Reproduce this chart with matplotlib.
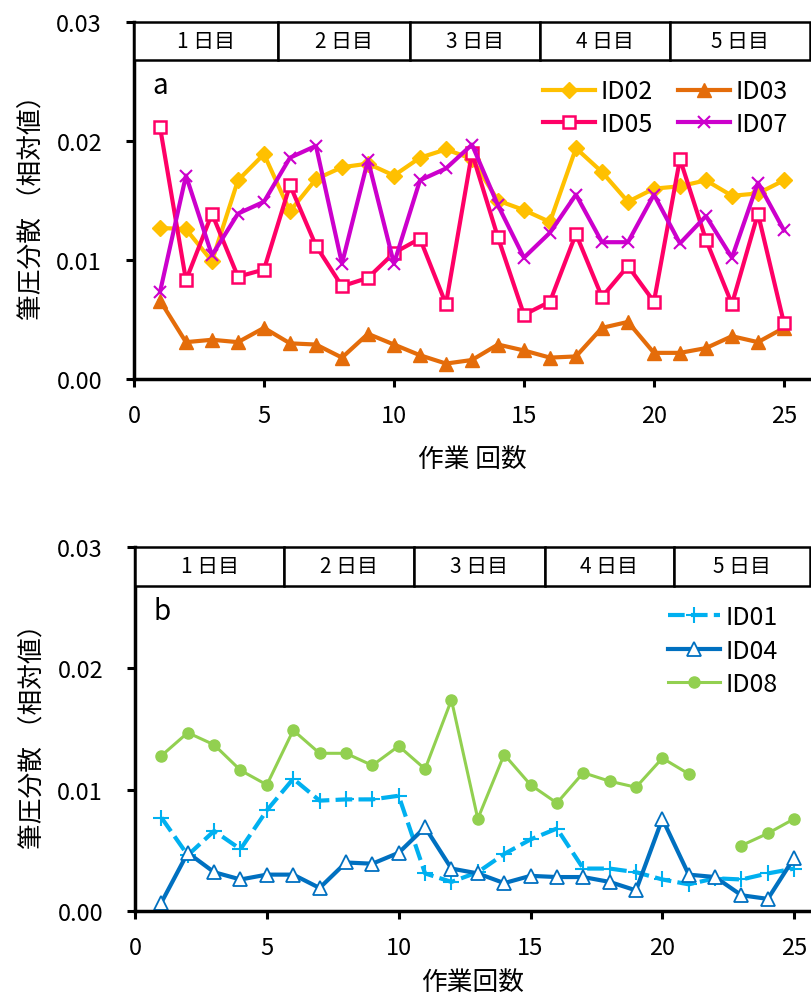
import matplotlib.pyplot as plt
import numpy as np
from matplotlib.patches import Rectangle

plt.rcParams['font.family'] = ['Noto Sans CJK JP', 'DejaVu Sans']

# trial number
runs = np.arange(1, 26)

# panel a
id02 = [0.0127, 0.0126, 0.0099, 0.0167, 0.0189, 0.0141, 0.0168, 0.0178, 0.0181, 0.0171,
        0.0186, 0.0193, 0.0185, 0.0150, 0.0142, 0.0132, 0.0194, 0.0174, 0.0149, 0.0160,
        0.0162, 0.0167, 0.0154, 0.0156, 0.0167]
id03 = [0.0066, 0.0031, 0.0033, 0.0031, 0.0043, 0.0030, 0.0029, 0.0018, 0.0038, 0.0029,
        0.0020, 0.0013, 0.0016, 0.0029, 0.0024, 0.0018, 0.0019, 0.0043, 0.0048, 0.0022,
        0.0022, 0.0026, 0.0036, 0.0031, 0.0043]
id05 = [0.0212, 0.0083, 0.0139, 0.0086, 0.0092, 0.0163, 0.0112, 0.0078, 0.0085, 0.0106,
        0.0118, 0.0063, 0.0190, 0.0119, 0.0054, 0.0065, 0.0122, 0.0069, 0.0095, 0.0065,
        0.0185, 0.0117, 0.0063, 0.0139, 0.0047]
id07 = [0.0073, 0.0171, 0.0104, 0.0139, 0.0149, 0.0186, 0.0196, 0.0097, 0.0184, 0.0097,
        0.0167, 0.0177, 0.0197, 0.0146, 0.0102, 0.0123, 0.0155, 0.0115, 0.0115, 0.0155,
        0.0114, 0.0137, 0.0102, 0.0165, 0.0125]

# panel b
id01 = [0.0077, 0.0046, 0.0066, 0.0051, 0.0083, 0.0109, 0.0091, 0.0092, 0.0092, 0.0095,
        0.0031, 0.0024, 0.0032, 0.0047, 0.0059, 0.0068, 0.0035, 0.0035, 0.0032, 0.0026,
        0.0022, 0.0027, 0.0026, 0.0031, 0.0035]
id04 = [0.0007, 0.0048, 0.0032, 0.0026, 0.0030, 0.0030, 0.0019, 0.0040, 0.0039, 0.0048,
        0.0069, 0.0035, 0.0031, 0.0023, 0.0029, 0.0028, 0.0028, 0.0024, 0.0017, 0.0076,
        0.0030, 0.0028, 0.0013, 0.0010, 0.0044]
id08 = [0.0128, 0.0147, 0.0137, 0.0116, 0.0104, 0.0149, 0.0130, 0.0130, 0.0120, 0.0136,
        0.0117, 0.0174, 0.0076, 0.0129, 0.0104, 0.0089, 0.0114, 0.0107, 0.0102, 0.0126,
        0.0113, np.nan, 0.0054, 0.0064, 0.0076]

day_labels = ['1 日目', '2 日目', '3 日目', '4 日目', '5 日目']
days_a = [0, 5.55, 10.6, 15.6, 20.6, 26]
days_b = [0, 5.65, 10.57, 15.53, 20.45, 25.6]


def style_axis(ax, xmax, days, xlabel, letter, xlabelpad):
    ax.set_xlim(0, xmax)
    ax.set_ylim(0, 0.03)
    ax.set_xticks([0, 5, 10, 15, 20, 25])
    ax.set_yticks([0, 0.01, 0.02, 0.03])
    ax.set_yticklabels(['0.00', '0.01', '0.02', '0.03'])
    for s in ['top', 'right']:
        ax.spines[s].set_visible(False)
    for s in ['left', 'bottom']:
        ax.spines[s].set_linewidth(2.5)
    ax.tick_params(direction='out', length=6, width=2.2, labelsize=17)
    ax.tick_params(axis='x', pad=12)
    ax.tick_params(axis='y', pad=17)
    ax.set_xlabel(xlabel, fontsize=18.5, labelpad=xlabelpad)
    ax.set_ylabel('筆圧分散 （相対値）', fontsize=18.5, labelpad=8)
    # day header boxes
    for i, lab in enumerate(day_labels):
        r = Rectangle((days[i], 0.0268), days[i + 1] - days[i], 0.0032,
                      facecolor='white', edgecolor='black', lw=1.8, zorder=5, clip_on=False)
        ax.add_patch(r)
        ax.text((days[i] + days[i + 1]) / 2, 0.0284, lab, ha='center', va='center',
                fontsize=15, zorder=6)
    ax.text(0.7, 0.0247, letter, fontsize=20, ha='left', va='center')


fig = plt.figure(figsize=(8.11, 10.03), dpi=100)

ax1 = fig.add_axes([0.1652, 0.6211, 0.8335, 0.3559])
l02, = ax1.plot(runs, id02, color='#FFC000', lw=3, marker='D', ms=8, label='ID02')
l03, = ax1.plot(runs, id03, color='#E46C0A', lw=3, marker='^', ms=10, label='ID03')
l05, = ax1.plot(runs, id05, color='#FF0066', lw=3, marker='s', ms=9, mfc='white', mew=1.8,
                label='ID05')
l07, = ax1.plot(runs, id07, color='#CC00CC', lw=3, marker='x', ms=9, mew=1.5, label='ID07')
style_axis(ax1, 26, days_a, '作業 回数', 'a', 14)
# legend rows: ID02 ID03 / ID05 ID07
ax1.legend([l02, l05, l03, l07], ['ID02', 'ID05', 'ID03', 'ID07'],
           loc='upper right', bbox_to_anchor=(1.0, 0.905), ncol=2, frameon=False,
           fontsize=18, handlelength=2.1, columnspacing=1.0, handletextpad=0.2,
           labelspacing=0.25)

ax2 = fig.add_axes([0.1665, 0.0907, 0.8323, 0.3629])
ax2.plot(runs, id01, color='#00B0F0', lw=3, ls=(0, (4, 1.5)), marker='+', ms=12, mew=1.5,
         label='ID01')
ax2.plot(runs, id04, color='#0070C0', lw=3, marker='^', ms=10, mfc='white', mew=1.3,
         label='ID04')
ax2.plot(runs, id08, color='#92D050', lw=2.2, marker='o', ms=8, label='ID08')
style_axis(ax2, 25.6, days_b, '作業回数', 'b', 7)
ax2.legend(loc='upper right', bbox_to_anchor=(0.985, 0.905), ncol=1, frameon=False,
           fontsize=18, handlelength=2.1, handletextpad=0.2, labelspacing=0.3)

fig.savefig('out.png', dpi=100)
